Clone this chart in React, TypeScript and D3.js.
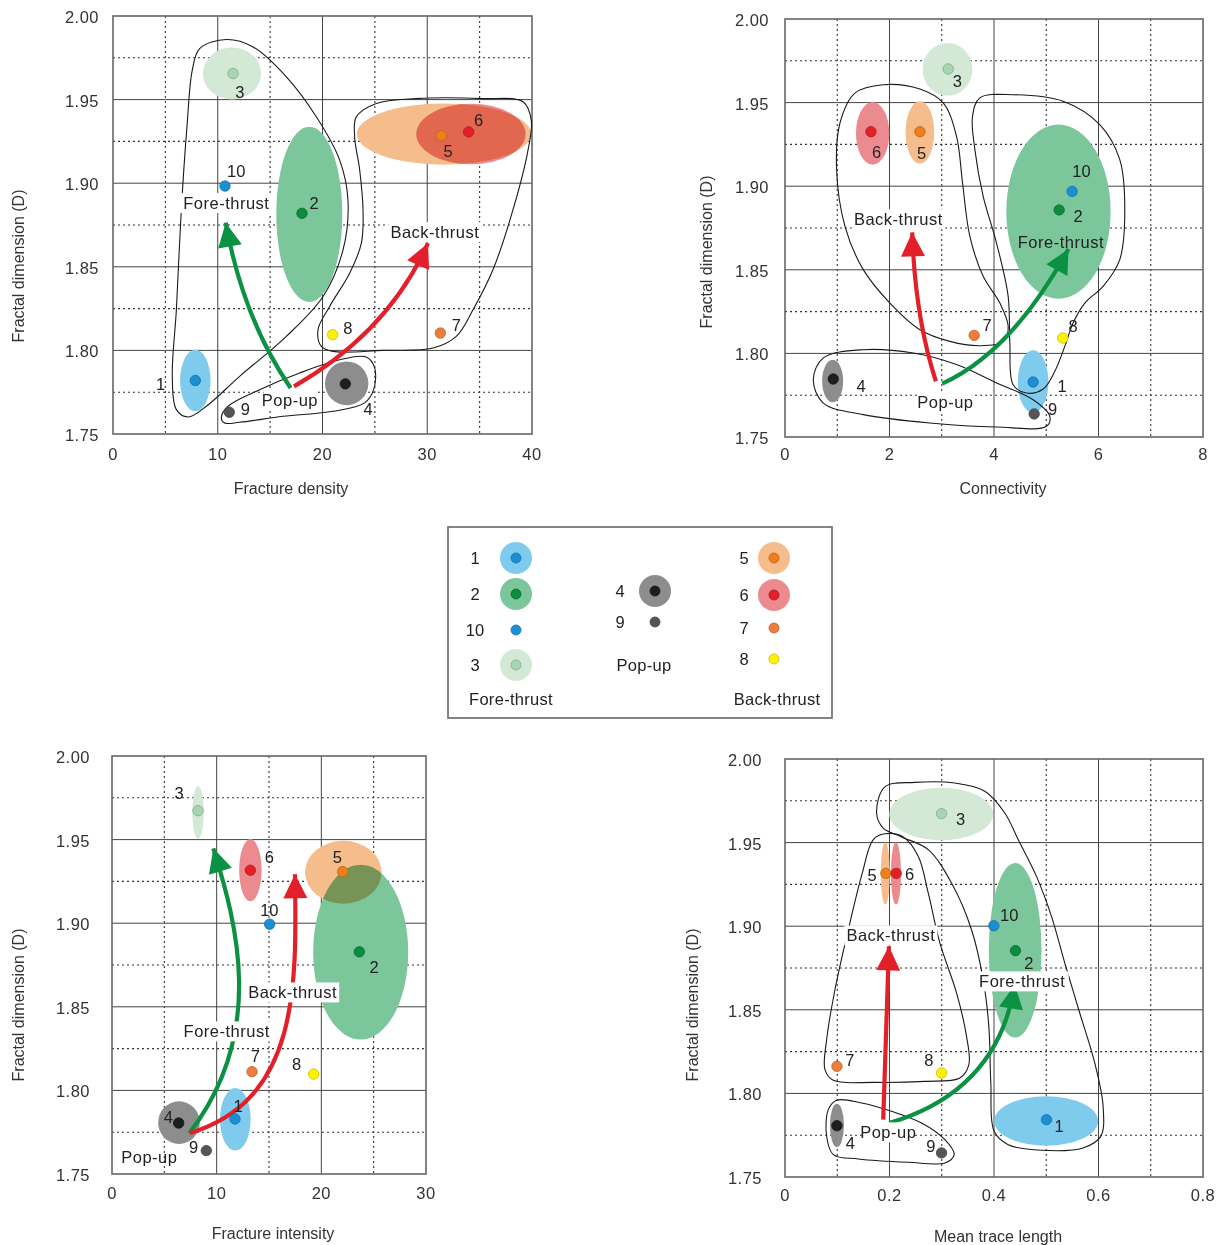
import React from 'react';
import * as d3 from 'd3';

type Pt = [number, number];
type Ell = [string, number, number, number, number]; // id, cx, cy, rx, ry (data units)

const pointIds = ['1', '2', '3', '4', '5', '6', '7', '8', '9', '10'];

// ---- Fracture density ----
const densityX = [7.86, 18.04, 11.46, 22.18, 31.34, 33.95, 31.25, 20.97, 11.1, 10.69];
const densityD = [1.782, 1.882, 1.9656, 1.78, 1.9284, 1.9307, 1.8104, 1.8094, 1.763, 1.8983];
const densityEllipses: Ell[] = [
  ['3', 11.36, 1.9656, 2.78, 0.0155],
  ['2', 18.74, 1.8814, 3.15, 0.0524],
  ['1', 7.86, 1.782, 1.45, 0.0184],
  ['4', 22.31, 1.7803, 2.07, 0.0131],
  ['5', 31.6, 1.9294, 8.32, 0.0183],
  ['6', 34.17, 1.9294, 5.22, 0.0181],
];
const densityTicks = [0, 10, 20, 30, 40];
const densityForeHull: Pt[] = [
  [8.27, 1.9805], [10.82, 1.9859], [13.37, 1.9815], [16.55, 1.9636], [19.41, 1.9397], [21.64, 1.9138],
  [22.43, 1.89], [21.96, 1.8601], [20.05, 1.8322], [16.55, 1.8084], [12.09, 1.7845], [8.91, 1.7666],
  [7.16, 1.7602], [6.05, 1.7646], [5.66, 1.7845], [6.05, 1.8243], [6.52, 1.884], [7.06, 1.9337], [7.57, 1.9676],
];
const densityBackHull: Pt[] = [
  [23.23, 1.9397], [25.14, 1.9477], [28.96, 1.9506], [35.32, 1.9506], [39.14, 1.9487], [39.93, 1.9377],
  [39.62, 1.9198], [38.18, 1.884], [36.27, 1.8482], [34.37, 1.8243], [32.77, 1.8084], [30.55, 1.8014],
  [25.77, 1.8], [21.0, 1.7994], [19.89, 1.8024], [19.57, 1.8123], [20.68, 1.8263], [22.59, 1.8462],
  [23.71, 1.8641], [23.87, 1.884], [23.55, 1.9079], [23.07, 1.9278],
];
const densityPopHull: Pt[] = [
  [10.34, 1.7596], [10.98, 1.7666], [14.0, 1.7765], [17.82, 1.7865], [21.64, 1.7944], [24.18, 1.796],
  [24.98, 1.7895], [24.88, 1.7765], [24.02, 1.7686], [21.0, 1.7636], [16.23, 1.7606], [12.09, 1.757], [10.66, 1.7566],
];
const densityGreenArrow: Pt[] = [[16.96, 1.7775], [12.41, 1.8191], [10.76, 1.8764]];
const densityRedArrow: Pt[] = [[17.28, 1.7785], [26.25, 1.8107], [30.07, 1.8641]];

// ---- Connectivity ----
const connectivityX = [4.749, 5.247, 3.124, 0.924, 2.582, 1.645, 3.621, 5.317, 4.769, 5.495];
const connectivityD = [1.7829, 1.8858, 1.9701, 1.7847, 1.9326, 1.9326, 1.8108, 1.8092, 1.7638, 1.8969];
const connectivityEllipses: Ell[] = [
  ['3', 3.111, 1.9699, 0.478, 0.01575],
  ['2', 5.234, 1.8848, 0.998, 0.0521],
  ['1', 4.749, 1.7831, 0.293, 0.01874],
  ['4', 0.912, 1.7835, 0.201, 0.01276],
  ['5', 2.582, 1.9322, 0.274, 0.01864],
  ['6', 1.677, 1.9316, 0.319, 0.01874],
];
const connectivityTicks = [0, 2, 4, 6, 8];
const connectivityBackHull: Pt[] = [
  [1.881, 1.9607], [2.582, 1.9581], [3.028, 1.9498], [3.283, 1.9298], [3.398, 1.9019], [3.538, 1.87],
  [3.793, 1.8461], [4.112, 1.8301], [4.271, 1.8162], [4.188, 1.8072], [3.729, 1.8046], [3.156, 1.8072],
  [2.582, 1.8142], [2.008, 1.8301], [1.498, 1.8501], [1.148, 1.876], [0.988, 1.9099], [1.052, 1.9378], [1.339, 1.9557],
];
const connectivityForeHull: Pt[] = [
  [3.589, 1.9418], [3.729, 1.9528], [4.367, 1.9547], [5.323, 1.9508], [6.024, 1.9368], [6.407, 1.9159],
  [6.503, 1.886], [6.407, 1.8561], [6.088, 1.8401], [5.738, 1.8301], [5.514, 1.8182], [5.355, 1.8042],
  [5.164, 1.7893], [4.941, 1.7787], [4.622, 1.7763], [4.367, 1.7813], [4.303, 1.8062], [4.271, 1.8341],
  [4.048, 1.866], [3.793, 1.8939], [3.634, 1.9219],
];
const connectivityPopHull: Pt[] = [
  [0.542, 1.7843], [0.733, 1.7973], [1.498, 1.8022], [2.454, 1.8002], [3.283, 1.7933], [4.048, 1.7823],
  [4.749, 1.7723], [5.068, 1.7624], [5.004, 1.7564], [4.048, 1.756], [2.773, 1.7584], [1.498, 1.7634], [0.733, 1.7703],
];
const connectivityRedArrow: Pt[] = [[2.888, 1.7833], [2.486, 1.8222], [2.435, 1.8724]];
const connectivityGreenArrow: Pt[] = [[3.009, 1.7819], [4.341, 1.8006], [5.425, 1.8624]];

// ---- Fracture intensity ----
const intensityX = [11.75, 23.63, 8.22, 6.37, 22.04, 13.22, 13.38, 19.27, 9.01, 15.06];
const intensityD = [1.7829, 1.8829, 1.9673, 1.7805, 1.9309, 1.9317, 1.8112, 1.8098, 1.764, 1.8994];
const intensityEllipses: Ell[] = [
  ['3', 8.22, 1.9663, 0.54, 0.0158],
  ['2', 23.76, 1.8827, 4.54, 0.0523],
  ['1', 11.78, 1.7827, 1.465, 0.0187],
  ['4', 6.4, 1.7807, 1.99, 0.01275],
  ['5', 22.1, 1.9305, 3.66, 0.0188],
  ['6', 13.22, 1.9317, 1.07, 0.0186],
];
const intensityTicks = [0, 10, 20, 30];
const intensityGreenArrow: Pt[] = [[7.39, 1.7745], [14.78, 1.8343], [11.91, 1.9], [9.68, 1.9448]];
const intensityRedArrow: Pt[] = [[7.45, 1.7745], [17.96, 1.7944], [17.64, 1.8641], [17.48, 1.9293]];

// ---- Mean trace length ----
const traceX = [0.5004, 0.4411, 0.2996, 0.0994, 0.1931, 0.2129, 0.0994, 0.2996, 0.2996, 0.3997];
const traceD = [1.7843, 1.8854, 1.9673, 1.7807, 1.9316, 1.9316, 1.8162, 1.8122, 1.7644, 1.9003];
const traceEllipses: Ell[] = [
  ['3', 0.299, 1.9671, 0.0994, 0.01565],
  ['2', 0.4405, 1.8856, 0.0504, 0.0522],
  ['1', 0.4998, 1.7835, 0.0994, 0.01475],
  ['4', 0.0994, 1.7809, 0.0134, 0.01296],
  ['5', 0.1919, 1.9316, 0.0086, 0.01864],
  ['6', 0.2123, 1.9316, 0.0096, 0.01864],
];
const traceTicks = [0, 0.2, 0.4, 0.6, 0.8];
const traceBackHull: Pt[] = [
  [0.1912, 1.9553], [0.2263, 1.9534], [0.255, 1.9418], [0.2741, 1.9199], [0.2964, 1.89], [0.3283, 1.8601],
  [0.3474, 1.8341], [0.3519, 1.8172], [0.3347, 1.8092], [0.2677, 1.8072], [0.1721, 1.8066], [0.0924, 1.8078],
  [0.0765, 1.8142], [0.0797, 1.8321], [0.0956, 1.862], [0.1211, 1.8979], [0.1479, 1.9318], [0.1689, 1.9518],
];
const traceForeHull: Pt[] = [
  [0.1912, 1.9833], [0.2486, 1.986], [0.3251, 1.9856], [0.3825, 1.9807], [0.4207, 1.9677], [0.4462, 1.9518],
  [0.4813, 1.9298], [0.51, 1.9059], [0.5355, 1.878], [0.5641, 1.8481], [0.5928, 1.8182], [0.6088, 1.7923],
  [0.6043, 1.7743], [0.5705, 1.7674], [0.4908, 1.766], [0.4271, 1.7693], [0.4003, 1.7773], [0.3939, 1.8062],
  [0.3901, 1.8401], [0.3793, 1.868], [0.357, 1.8979], [0.3187, 1.9258], [0.2741, 1.9458], [0.2231, 1.9534],
  [0.188, 1.9587], [0.1753, 1.9677],
];
const tracePopHull: Pt[] = [
  [0.0829, 1.7903], [0.0988, 1.7959], [0.1466, 1.7943], [0.204, 1.7893], [0.2614, 1.7823], [0.306, 1.7723],
  [0.3238, 1.7634], [0.306, 1.7584], [0.2359, 1.7588], [0.1402, 1.7608], [0.0924, 1.7634], [0.0797, 1.7743],
];
const traceRedArrow: Pt[] = [[0.188, 1.7843], [0.1931, 1.8301], [0.1989, 1.888]];
const traceGreenArrow: Pt[] = [[0.1995, 1.7823], [0.4067, 1.8012], [0.4398, 1.865]];

const yTicks = [1.75, 1.8, 1.85, 1.9, 1.95, 2.0];

// colours
const dotColor: Record<string, string> = {
  '1': '#1b8fd5', '2': '#0b8c3e', '3': '#a9d6b2', '4': '#1e1e1e', '5': '#ef7f1a',
  '6': '#e41f26', '7': '#ee7d3a', '8': '#fff200', '9': '#555555', '10': '#1b8fd5',
};
const haloColor: Record<string, string> = {
  '1': '#7ecbee', '2': '#7cc69c', '3': '#d3e9d5', '4': '#8d8d8d', '5': '#f5bd8b', '6': '#eb8b8f',
};
const GREEN = '#0b9142';
const RED = '#e3202a';
const FONT = 'Liberation Sans, Arial, Helvetica, sans-serif';

type Note = { text: string; at: Pt; bg: boolean };
type Panel = {
  xs: number[]; ds: number[]; ellipses: Ell[]; hulls: Pt[][]; arrows: { color: string; pts: Pt[] }[];
  notes: Note[]; offsets: Record<string, Pt>; ticks: number[]; fmt: (v: number) => string; title: string;
  box: { l: number; r: number; t: number; b: number }; yGap: number; xTickY: number; titleX: number; titleY: number;
  yTitleX: number; yTitleY: number;
};

const panels: Panel[] = [
  {
    xs: densityX, ds: densityD, ellipses: densityEllipses,
    hulls: [densityForeHull, densityBackHull, densityPopHull],
    arrows: [{ color: GREEN, pts: densityGreenArrow }, { color: RED, pts: densityRedArrow }],
    notes: [
      { text: 'Fore-thrust', at: [10.82, 1.8881], bg: true },
      { text: 'Back-thrust', at: [30.73, 1.8707], bg: true },
      { text: 'Pop-up', at: [16.89, 1.7703], bg: true },
    ],
    offsets: {
      '1': [-34.7, 3.3], '2': [12, -10], '3': [6.7, 18.3], '4': [22.7, 25.3], '5': [6.7, 15],
      '6': [10, -11.7], '7': [16, -8.3], '8': [15.3, -6.7], '9': [16, -3.3], '10': [11.3, -15],
    },
    ticks: densityTicks, fmt: d3.format('d'), title: 'Fracture density',
    box: { l: 113, r: 532, t: 16, b: 434 }, yGap: 14, xTickY: 454, titleX: 291, titleY: 488, yTitleX: 18, yTitleY: 266,
  },
  {
    xs: connectivityX, ds: connectivityD, ellipses: connectivityEllipses,
    hulls: [connectivityBackHull, connectivityForeHull, connectivityPopHull],
    arrows: [{ color: RED, pts: connectivityRedArrow }, { color: GREEN, pts: connectivityGreenArrow }],
    notes: [
      { text: 'Back-thrust', at: [2.17, 1.8802], bg: true },
      { text: 'Fore-thrust', at: [5.28, 1.8664], bg: false },
      { text: 'Pop-up', at: [3.07, 1.7707], bg: true },
    ],
    offsets: {
      '1': [29, 3.7], '2': [19, 6.3], '3': [9, 12.3], '4': [27.7, 6.7], '5': [1.7, 21.3],
      '6': [5.7, 20.7], '7': [13, -10.7], '8': [10.3, -11.7], '9': [18.3, -5], '10': [9.3, -20],
    },
    ticks: connectivityTicks, fmt: d3.format('d'), title: 'Connectivity',
    box: { l: 785, r: 1203, t: 19, b: 437 }, yGap: 16, xTickY: 454, titleX: 1003, titleY: 488, yTitleX: 706, yTitleY: 252,
  },
  {
    xs: intensityX, ds: intensityD, ellipses: intensityEllipses, hulls: [],
    arrows: [{ color: GREEN, pts: intensityGreenArrow }, { color: RED, pts: intensityRedArrow }],
    notes: [
      { text: 'Back-thrust', at: [17.26, 1.8586], bg: true },
      { text: 'Fore-thrust', at: [10.96, 1.8353], bg: true },
      { text: 'Pop-up', at: [3.57, 1.7602], bg: false },
    ],
    offsets: {
      '1': [3, -13.3], '2': [14.7, 15.7], '3': [-19, -18], '4': [-10.3, -5.7], '5': [-5.3, -15],
      '6': [19, -12.7], '7': [3.3, -15.3], '8': [-17, -10.3], '9': [-12.7, -3.3], '10': [-0.3, -14.3],
    },
    ticks: intensityTicks, fmt: d3.format('d'), title: 'Fracture intensity',
    box: { l: 112, r: 426, t: 756, b: 1174 }, yGap: 22, xTickY: 1193, titleX: 273, titleY: 1233, yTitleX: 18, yTitleY: 1005,
  },
  {
    xs: traceX, ds: traceD, ellipses: traceEllipses,
    hulls: [traceBackHull, traceForeHull, tracePopHull],
    arrows: [{ color: RED, pts: traceRedArrow }, { color: GREEN, pts: traceGreenArrow }],
    notes: [
      { text: 'Back-thrust', at: [0.2027, 1.8945], bg: true },
      { text: 'Fore-thrust', at: [0.4539, 1.867], bg: true },
      { text: 'Pop-up', at: [0.1976, 1.7767], bg: true },
    ],
    offsets: {
      '1': [12.7, 6], '2': [13.3, 12.3], '3': [19, 5], '4': [13.3, 17.3], '5': [-13.7, 1.3],
      '6': [13.3, 0.3], '7': [13, -6], '8': [-12.7, -13.3], '9': [-10.7, -6.7], '10': [15.3, -10.3],
    },
    ticks: traceTicks, fmt: (v: number) => (v === 0 ? '0' : d3.format('.1f')(v)), title: 'Mean trace length',
    box: { l: 785, r: 1203, t: 759, b: 1177 }, yGap: 23, xTickY: 1195, titleX: 998, titleY: 1236, yTitleX: 692, yTitleY: 1005,
  },
];

function arrowShapes(pts: Pt[], x: d3.ScaleLinear<number, number>, y: d3.ScaleLinear<number, number>) {
  const p = pts.map(([a, b]) => [x(a), y(b)] as Pt);
  const path = d3.path();
  path.moveTo(p[0][0], p[0][1]);
  if (p.length === 3) path.quadraticCurveTo(p[1][0], p[1][1], p[2][0], p[2][1]);
  else path.bezierCurveTo(p[1][0], p[1][1], p[2][0], p[2][1], p[3][0], p[3][1]);
  const tip = p[p.length - 1];
  const prev = p[p.length - 2];
  const dx = tip[0] - prev[0];
  const dy = tip[1] - prev[1];
  const len = Math.hypot(dx, dy);
  const ux = dx / len, uy = dy / len;
  const L = 24, W = 12;
  const bx = tip[0] - L * ux, by = tip[1] - L * uy;
  const head = `M${tip[0]},${tip[1]}L${bx - W * uy},${by + W * ux}L${bx + W * uy},${by - W * ux}Z`;
  return { shaft: path.toString(), head };
}

const ChartPanel = ({ cfg }: { cfg: Panel }) => {
  const { box } = cfg;
  const xMax = cfg.ticks[cfg.ticks.length - 1];
  const x = d3.scaleLinear().domain([0, xMax]).range([box.l, box.r]);
  const y = d3.scaleLinear().domain([1.75, 2.0]).range([box.b, box.t]);
  const step = cfg.ticks[1] - cfg.ticks[0];
  const xMinor = cfg.ticks.slice(0, -1).map((t) => t + step / 2);
  const yMinor = yTicks.slice(0, -1).map((t) => t + 0.025);
  const hullLine = d3.line<Pt>().x((d) => x(d[0])).y((d) => y(d[1])).curve(d3.curveCatmullRomClosed.alpha(0.5));

  return (
    <g>
      {/* grid */}
      {xMinor.map((t) => (
        <line key={'xm' + t} x1={x(t)} x2={x(t)} y1={box.t} y2={box.b} stroke="#333" strokeWidth={1.1} strokeDasharray="2,3" />
      ))}
      {yMinor.map((t) => (
        <line key={'ym' + t} x1={box.l} x2={box.r} y1={y(t)} y2={y(t)} stroke="#333" strokeWidth={1.1} strokeDasharray="2,3" />
      ))}
      {cfg.ticks.slice(1, -1).map((t) => (
        <line key={'xM' + t} x1={x(t)} x2={x(t)} y1={box.t} y2={box.b} stroke="#444" strokeWidth={1} />
      ))}
      {yTicks.slice(1, -1).map((t) => (
        <line key={'yM' + t} x1={box.l} x2={box.r} y1={y(t)} y2={y(t)} stroke="#444" strokeWidth={1} />
      ))}
      <rect x={box.l} y={box.t} width={box.r - box.l} height={box.b - box.t} fill="none" stroke="#666" strokeWidth={1.6} />

      {/* tick labels */}
      {cfg.ticks.map((t) => (
        <text key={'xt' + t} x={x(t)} y={cfg.xTickY} textAnchor="middle" dominantBaseline="central"
          fontSize={16.5} letterSpacing={0.5} fill="#333">{cfg.fmt(t)}</text>
      ))}
      {yTicks.map((t) => (
        <text key={'yt' + t} x={box.l - cfg.yGap} y={y(t) + 1} textAnchor="end" dominantBaseline="central"
          fontSize={16.5} letterSpacing={0.5} fill="#333">{d3.format('.2f')(t)}</text>
      ))}
      <text x={cfg.titleX} y={cfg.titleY} textAnchor="middle" dominantBaseline="central" fontSize={16} fill="#333">
        {cfg.title}
      </text>
      <text transform={`translate(${cfg.yTitleX},${cfg.yTitleY}) rotate(-90)`} textAnchor="middle" dominantBaseline="central"
        fontSize={16} fill="#333">Fractal dimension (D)</text>

      {/* error ellipses */}
      <g style={{ isolation: 'isolate' }}>
        {cfg.ellipses.map(([id, cx, cy, rx, ry]) => (
          <ellipse key={'e' + id} cx={x(cx)} cy={y(cy)} rx={x(cx + rx) - x(cx)} ry={y(cy) - y(cy + ry)}
            fill={haloColor[id]} style={{ mixBlendMode: 'multiply' }} />
        ))}
      </g>

      {/* group outlines */}
      {cfg.hulls.map((h, i) => (
        <path key={'h' + i} d={hullLine(h) ?? ''} fill="none" stroke="#1a1a1a" strokeWidth={1.1} />
      ))}

      {/* arrows */}
      {cfg.arrows.map((a, i) => {
        const s = arrowShapes(a.pts, x, y);
        return (
          <g key={'a' + i}>
            <path d={s.shaft} fill="none" stroke={a.color} strokeWidth={4.2} />
            <path d={s.head} fill={a.color} />
          </g>
        );
      })}

      {/* points */}
      {pointIds.map((id, i) => (
        <circle key={'p' + id} cx={x(cfg.xs[i])} cy={y(cfg.ds[i])} r={5.2} fill={dotColor[id]}
          stroke={d3.color(dotColor[id])!.darker(0.7).formatHex()} strokeWidth={0.8} />
      ))}
      {pointIds.map((id, i) => (
        <text key={'l' + id} x={x(cfg.xs[i]) + cfg.offsets[id][0]} y={y(cfg.ds[i]) + cfg.offsets[id][1]}
          textAnchor="middle" dominantBaseline="central" fontSize={16.5} fill="#222">{id}</text>
      ))}

      {/* group names */}
      {cfg.notes.map((n) => {
        const w = n.text.length * 8.1 + 4;
        const cx = x(n.at[0]);
        const cy = y(n.at[1]);
        return (
          <g key={n.text}>
            {n.bg && <rect x={cx - w / 2} y={cy - 10} width={w} height={20} fill="#fff" />}
            <text x={cx} y={cy} textAnchor="middle" dominantBaseline="central" fontSize={16.5} letterSpacing={0.5} fill="#222">
              {n.text}
            </text>
          </g>
        );
      })}
    </g>
  );
};

// legend layout
const legendCols = [
  { labelX: 475, markX: 516, rows: [['1', 558], ['2', 594], ['10', 630], ['3', 665]], name: 'Fore-thrust', nameX: 511 },
  { labelX: 620, markX: 655, rows: [['4', 591], ['9', 622]], name: 'Pop-up', nameX: 644, nameY: 665 },
  { labelX: 744, markX: 774, rows: [['5', 558], ['6', 595], ['7', 628], ['8', 659]], name: 'Back-thrust', nameX: 777 },
];

const Legend = () => (
  <g>
    <rect x={448} y={527} width={384} height={191} fill="#fff" stroke="#666" strokeWidth={1.6} />
    {legendCols.map((c) => (
      <g key={c.name}>
        {c.rows.map(([id, yy]) => (
          <g key={id as string}>
            <text x={c.labelX} y={yy as number} textAnchor="middle" dominantBaseline="central" fontSize={16.5} fill="#222">{id}</text>
            {haloColor[id as string] && <circle cx={c.markX} cy={yy as number} r={16} fill={haloColor[id as string]} />}
            <circle cx={c.markX} cy={yy as number} r={5} fill={dotColor[id as string]}
              stroke={d3.color(dotColor[id as string])!.darker(0.7).formatHex()} strokeWidth={0.8} />
          </g>
        ))}
        <text x={c.nameX} y={c.nameY ?? 699} textAnchor="middle" dominantBaseline="central" fontSize={16.5} letterSpacing={0.3} fill="#222">
          {c.name}
        </text>
      </g>
    ))}
  </g>
);

export default function App() {
  return (
    <svg width={1222} height={1245} style={{ position: 'absolute', left: 0, top: 0, background: '#fff' }} fontFamily={FONT}>
      <rect width={1222} height={1245} fill="#fff" />
      {panels.map((p, i) => (
        <ChartPanel key={i} cfg={p} />
      ))}
      <Legend />
    </svg>
  );
}
